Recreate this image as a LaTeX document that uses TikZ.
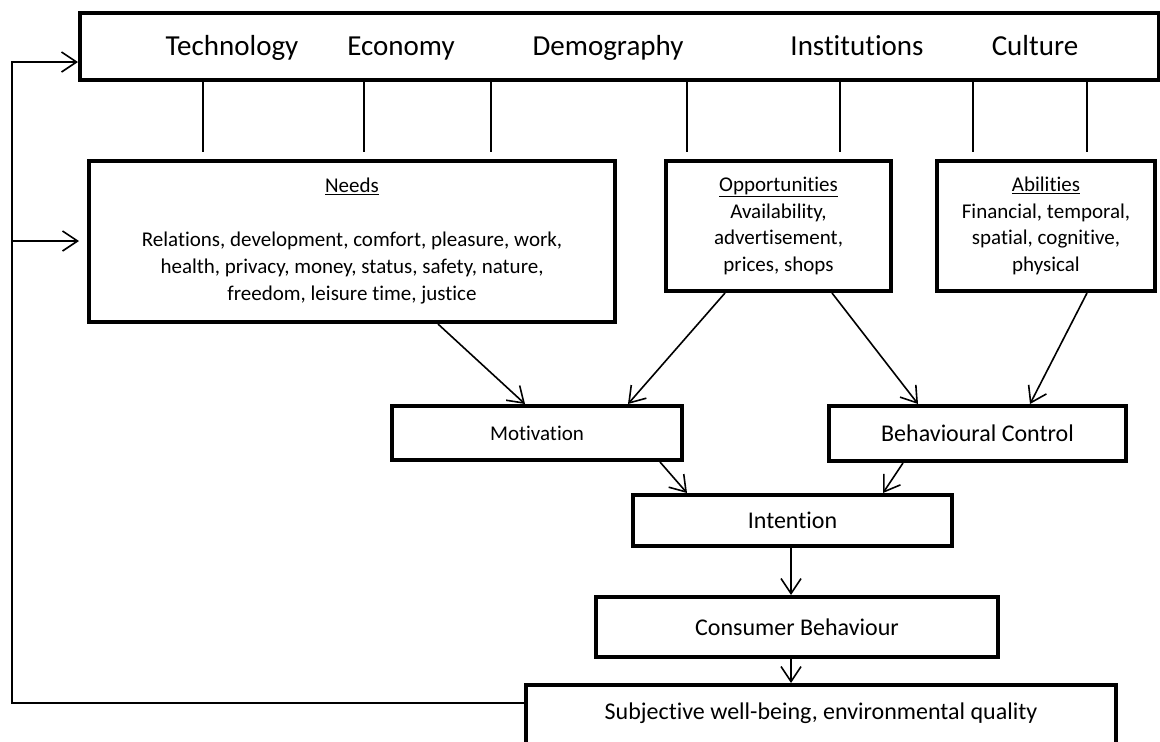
\documentclass[tikz,border=0pt]{standalone}
\usepackage{fontspec}
\setmainfont{Carlito}[Ligatures=NoCommon]
\usepackage{tikz}
\usetikzlibrary{arrows.meta}

\begin{document}
\begin{tikzpicture}[
  x=1pt, y=-1pt,
  cbbox/.style={draw, line width=4pt, inner sep=0pt, align=center, font=\fontsize{21}{26.5}\selectfont},
  cblabel/.style={anchor=base, inner sep=0pt, font=\fontsize{29}{34}\selectfont},
  cbline/.style={line width=1.6pt},
  cbarrow/.style={-{Straight Barb[length=15pt,width=20pt]}, line width=1.6pt}
]
\useasboundingbox (0,0) rectangle (1160,742);
\clip (0,0) rectangle (1160,742);
% driving forces
\node[cbbox, minimum width=1079pt, minimum height=67pt] (drivers) at (619.5,46.5) {};
\node[cblabel] (tech) at (232,55) {Technology};
\node[cblabel] (econ) at (401,55) {Economy};
\node[cblabel] (demo) at (608,55) {Demography};
\node[cblabel] (inst) at (857,55) {Institutions};
\node[cblabel] (cult) at (1035,55) {Culture};
\foreach \x in {203,364,491,687,840,973,1087}
  \draw[cbline] (drivers.south -| \x,0) -- ++(0,70);
% needs, opportunities, abilities
\node[cbbox, minimum width=526pt, minimum height=161pt, font=\fontsize{21}{27}\selectfont] (needs) at (352,241.5)
  {\underline{Needs}\\[27pt]Relations, development, comfort, pleasure, work,\\health, privacy, money, status, safety, nature,\\freedom, leisure time, justice};
\node[cbbox, minimum width=225pt, minimum height=130pt] (opp) at (778.5,226)
  {\underline{Opportunities}\\Availability,\\advertisement,\\prices, shops};
\node[cbbox, minimum width=218pt, minimum height=130pt] (abil) at (1046,226)
  {\underline{Abilities}\\Financial, temporal,\\spatial, cognitive,\\physical};
% middle row
\node[cbbox, minimum width=290pt, minimum height=54pt] (mot) at (537,433) {Motivation};
\node[cbbox, minimum width=297pt, minimum height=55pt, font=\fontsize{24}{29}\selectfont] (behav) at (977.5,433.5) {Behavioural Control};
\node[cbbox, minimum width=319pt, minimum height=51pt, font=\fontsize{24}{29}\selectfont] (intent) at (792.5,520.5) {Intention};
\node[cbbox, minimum width=402pt, minimum height=60pt, font=\fontsize{24}{29}\selectfont] (cons) at (797,627) {Consumer Behaviour};
\node[cbbox, anchor=north, minimum width=590pt, inner ysep=16pt, text height=18.5pt, text depth=60pt, font=\fontsize{24}{29}\selectfont] (subj) at (821,683)
  {Subjective well-being, environmental quality};
% arrows
\draw[cbarrow] ([xshift=86pt]needs.south) -- ([xshift=-12pt]mot.north);
\draw[cbarrow] ([xshift=-53.5pt]opp.south) -- ([xshift=91pt]mot.north);
\draw[cbarrow] ([xshift=53.5pt]opp.south) -- ([xshift=-59.5pt]behav.north);
\draw[cbarrow] ([xshift=41pt]abil.south) -- ([xshift=52.5pt]behav.north);
\draw[cbarrow] ([xshift=123pt]mot.south) -- ([xshift=-105.5pt]intent.north);
\draw[cbarrow] ([xshift=-74.5pt]behav.south) -- ([xshift=90.5pt]intent.north);
\draw[cbarrow] ([xshift=-1.5pt]intent.south) -- ([xshift=-6pt]cons.north);
\draw[cbarrow] ([xshift=-6pt]cons.south) -- ([xshift=-30pt]subj.north);
% feedback loop
\coordinate (fbtop) at (12,62);
\coordinate (fbmid) at (12,241);
\coordinate (fbbot) at (12,703);
\draw[cbarrow] (subj.west |- fbbot) -- (fbbot) -- (fbtop) -- (drivers.west |- fbtop);
\draw[cbarrow] (fbmid) -- ([xshift=-8pt]needs.west |- fbmid);
\end{tikzpicture}
\end{document}
